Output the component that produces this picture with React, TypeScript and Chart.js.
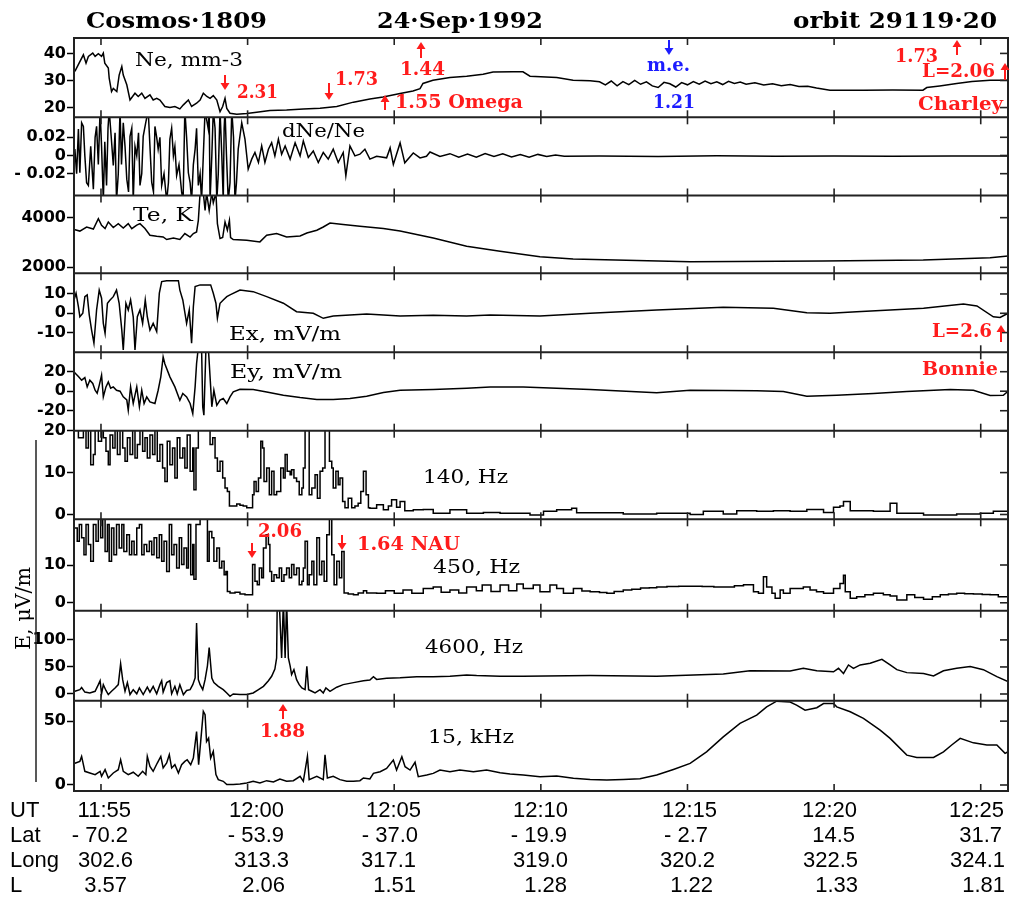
import React, { useEffect, useRef } from "react";
import { Chart, registerables } from "chart.js";

Chart.register(...registerables);

type Pt = [number, number];

// ---------- time axis: minutes after 11:55 UT ----------
const timeMin = -0.92;
const timeMax = 30.93;
const timeTicks = [0, 5, 10, 15, 20, 25, 30];

// ---------- orbit table ----------
const rowNames = ["UT", "Lat", "Long", "L"];
const utLabels = ["11:55", "12:00", "12:05", "12:10", "12:15", "12:20", "12:25"];
const latLabels = ["- 70.2", "- 53.9", "- 37.0", "- 19.9", "- 2.7", "14.5", "31.7"];
const longLabels = ["302.6", "313.3", "317.1", "319.0", "320.2", "322.5", "324.1"];
const lLabels = ["3.57", "2.06", "1.51", "1.28", "1.22", "1.33", "1.81"];

// ---------- series [minute, value] ----------
const neData: Pt[] = [
  [-0.89, 33.4], [-0.72, 37], [-0.6, 39.5], [-0.51, 36.4], [-0.43, 38.9], [-0.28, 40.1], [-0.2, 38.9], [-0.09, 39.9],
  [0.02, 38.9], [0.08, 40.1], [0.13, 36.4], [0.25, 34.6], [0.28, 30.9], [0.36, 25.9], [0.42, 27.1], [0.54, 25.9],
  [0.62, 32], [0.71, 35.2], [0.76, 32], [0.88, 28.4], [0.99, 22.8], [1.16, 25.3], [1.27, 24.1], [1.39, 25.3],
  [1.5, 23.4], [1.67, 24.7], [1.78, 22.8], [1.9, 23.4], [2.01, 22.8], [2.18, 20.4], [2.35, 20], [2.52, 20.4],
  [2.69, 19.5], [2.81, 21], [2.98, 22.8], [3.09, 20.4], [3.26, 21.6], [3.38, 22.8], [3.49, 25.3], [3.61, 24.1],
  [3.72, 23.4], [3.83, 24.4], [3.95, 22.8], [4.06, 18.5], [4.15, 20.4], [4.23, 23.4], [4.29, 19.7], [4.4, 17.9],
  [4.63, 17.5], [4.97, 17.8], [5.31, 18.3], [5.76, 18.9], [6.33, 19.1], [6.9, 19.5], [7.47, 19.7], [8.04, 20.4],
  [8.61, 22], [9.17, 23.2], [9.62, 23.9], [10.2, 25.2], [10.64, 26.1], [10.88, 27], [10.98, 28.9], [11.32, 30.1],
  [11.9, 31.1], [12.47, 31.6], [13.03, 32.3], [13.37, 33.1], [14.05, 33.2], [14.39, 33.2], [14.63, 31.6],
  [15.54, 31.1], [16.1, 30.1], [16.68, 29.9], [17.0, 29.5], [17.2, 28.4], [17.4, 29.8], [17.6, 28], [17.8, 29.6],
  [18.0, 28.5], [18.2, 30], [18.4, 28.6], [18.6, 29.5], [18.8, 28], [19.0, 27.4], [19.2, 29.3], [19.4, 28.8],
  [19.6, 27.6], [19.8, 29.2], [20.0, 28.4], [20.2, 29.6], [20.4, 28.6], [20.6, 29.8], [20.8, 28.8], [21.0, 29.5],
  [21.2, 28.5], [21.4, 29.7], [21.6, 28.9], [21.8, 29.4], [22.0, 28.6], [22.3, 29.2], [22.6, 28.3], [22.9, 28.8],
  [23.2, 28.1], [23.5, 28.5], [23.8, 27.8], [24.1, 27.9], [24.4, 27.2], [24.86, 26.4], [26, 26.4], [27, 26.5],
  [28.03, 26.4], [28.16, 27.4], [28.6, 28], [29.18, 28.9], [29.7, 29.6], [30.32, 30.1], [30.93, 30.1],
];

const dneData: Pt[] = [
  [-0.89, 0.007], [-0.83, -0.02], [-0.77, 0.029], [-0.72, -0.019], [-0.66, 0.036], [-0.6, 0.032], [-0.55, -0.0004],
  [-0.49, -0.03], [-0.43, -0.033], [-0.35, 0.01], [-0.26, -0.037], [-0.2, 0.02], [-0.15, 0.032], [-0.09, -0.01],
  [-0.03, 0.05], [0.02, 0.01], [0.08, -0.05], [0.13, 0.015], [0.19, -0.033], [0.24, 0.03], [0.28, 0.05],
  [0.35, 0.02], [0.42, -0.011], [0.48, 0.025], [0.53, -0.05], [0.59, -0.02], [0.65, 0.05], [0.7, -0.01],
  [0.76, 0.036], [0.82, 0.01], [0.88, -0.026], [0.94, -0.04], [0.99, 0.021], [1.05, 0.03], [1.1, -0.05],
  [1.16, 0.01], [1.22, -0.0004], [1.28, 0.025], [1.33, -0.033], [1.39, -0.02], [1.44, 0.021], [1.52, 0.035],
  [1.61, 0.05], [1.67, 0.01], [1.73, -0.0295], [1.79, -0.04], [1.84, 0.032], [1.9, 0.02], [1.95, 0.007],
  [2.01, 0.02], [2.07, -0.033], [2.15, -0.02], [2.24, -0.05], [2.3, -0.03], [2.35, 0.018], [2.41, 0.03],
  [2.47, -0.0004], [2.52, 0.01], [2.58, -0.022], [2.66, -0.01], [2.75, -0.04], [2.8, -0.05], [2.86, 0.05],
  [2.92, 0.02], [2.98, -0.019], [3.04, -0.03], [3.09, -0.05], [3.15, -0.01], [3.21, 0.007], [3.26, 0.03],
  [3.32, -0.033], [3.38, -0.02], [3.43, -0.05], [3.49, 0.0], [3.55, 0.05], [3.6, 0.04], [3.66, 0.029],
  [3.69, 0.05], [3.72, -0.05], [3.78, 0.0], [3.83, 0.05], [3.89, 0.03], [3.95, -0.05], [4.0, -0.02], [4.06, 0.05],
  [4.12, 0.0], [4.17, -0.05], [4.2, 0.03], [4.23, 0.05], [4.28, 0.0], [4.34, -0.05], [4.4, -0.03], [4.46, 0.05],
  [4.52, 0.02], [4.57, -0.05], [4.62, -0.03], [4.68, 0.007], [4.8, 0.036], [4.91, 0.018], [5.02, -0.015],
  [5.14, -0.004], [5.25, 0.0033], [5.37, -0.0077], [5.48, 0.0105], [5.59, -0.0077], [5.71, 0.0069], [5.82, 0.014],
  [5.93, -0.0004], [6.05, 0.018], [6.16, 0.0014], [6.28, 0.0105], [6.45, -0.004], [6.62, 0.014], [6.79, -0.0004],
  [6.9, 0.016], [7.07, -0.0022], [7.24, 0.005], [7.41, -0.0077], [7.58, 0.0033], [7.75, -0.004], [7.92, 0.0069],
  [8.09, -0.0077], [8.26, 0.0033], [8.35, -0.0223], [8.49, 0.0105], [8.66, -0.0004], [8.83, 0.0014], [9.0, 0.0069],
  [9.17, -0.004], [9.4, -0.0008], [9.74, -0.0026], [9.86, 0.0083], [9.97, -0.0098], [10.2, 0.0138],
  [10.36, -0.0081], [10.65, 0.0028], [10.88, -0.0026], [11.1, -0.0008], [11.22, 0.0039], [11.56, -0.001],
  [11.9, 0.002], [12.2, -0.002], [12.5, 0.0015], [12.8, -0.0018], [13.1, 0.0022], [13.4, -0.001], [13.7, 0.0018],
  [14.0, -0.0015], [14.3, 0.001], [14.6, -0.002], [14.9, 0.0012], [15.2, -0.001], [15.5, 0.0006], [15.8, -0.0008],
  [17, -0.0006], [19, -0.001], [21, -0.0004], [23, -0.0008], [25, -0.0006], [27, -0.0008], [29, -0.0005],
  [30.93, -0.0006],
];

const teData: Pt[] = [
  [-0.92, 3520], [-0.72, 3460], [-0.49, 3624], [-0.26, 3540], [-0.09, 3960], [0.02, 3692], [0.14, 3560],
  [0.25, 3824], [0.42, 3600], [0.59, 3760], [0.76, 3580], [0.93, 3760], [1.05, 3560], [1.22, 3700], [1.33, 3760],
  [1.5, 3560], [1.67, 3292], [1.9, 3250], [2.12, 3224], [2.24, 3120], [2.47, 3180], [2.69, 3120], [2.86, 3360],
  [3.04, 3220], [3.15, 3360], [3.26, 3424], [3.32, 3892], [3.38, 5000], [3.49, 5000], [3.55, 4292], [3.6, 5000],
  [3.69, 4292], [3.78, 5000], [3.83, 4600], [3.92, 5000], [3.97, 3760], [4.06, 3160], [4.15, 3200], [4.23, 3824],
  [4.31, 3500], [4.38, 3892], [4.42, 3200], [4.51, 3120], [4.97, 3092], [5.42, 3024], [5.65, 3292], [5.99, 3360],
  [6.33, 3224], [6.79, 3260], [7.02, 3384], [7.36, 3492], [7.58, 3624], [7.81, 3784], [8.26, 3720], [8.83, 3652],
  [9.63, 3560], [10.2, 3464], [11.33, 3184], [12.47, 2852], [13.61, 2652], [14.97, 2424], [16.1, 2332],
  [20.09, 2224], [24.62, 2252], [28.04, 2292], [30.32, 2384], [30.93, 2452],
];

const exData: Pt[] = [
  [-0.92, 6.9], [-0.85, 10.4], [-0.77, 3.4], [-0.72, -1.8], [-0.62, 0], [-0.55, 8.6], [-0.47, 9.5], [-0.4, -0.8],
  [-0.32, -8.7], [-0.24, -15.5], [-0.15, 1.7], [-0.06, 12], [0.02, 7.8], [0.08, -5.2], [0.14, -10.4], [0.22, 5.2],
  [0.31, 6.9], [0.42, 8.6], [0.53, 12], [0.62, 5.2], [0.71, -8.7], [0.76, -19], [0.85, 5.2], [0.93, 1.7],
  [1.01, 6.9], [1.1, -1.8], [1.16, -19], [1.24, -1.8], [1.33, 1.7], [1.42, -5.2], [1.51, 6.9], [1.58, -1.8],
  [1.67, -8.7], [1.78, -5.2], [1.9, -9.5], [1.99, 10.4], [2.07, 16.4], [2.24, 16.9], [2.64, 16.9], [2.69, 12],
  [2.79, 6.9], [2.92, -5.2], [3.01, 1.7], [3.09, -15.5], [3.15, 3.4], [3.21, 13.8], [3.38, 14.7], [3.74, 14.7],
  [3.83, 10.4], [3.92, 5.2], [3.97, -2.6], [4.06, 5.2], [4.17, 6.9], [4.29, 8.6], [4.4, 9.5], [4.74, 12],
  [5.19, 11.2], [5.65, 8.6], [6.22, 5.2], [6.67, 0.8], [7.24, 0], [7.58, -2.6], [7.92, -1.4], [9.06, -0.4],
  [10.2, -1.4], [11.33, -1], [12.47, -1.4], [13.27, -0.9], [14.97, -1.4], [16.68, 0], [18.95, 1.7], [21.22, 3.1],
  [22.93, 2.6], [24.07, 0.3], [24.86, 0], [25.77, 0.8], [28.05, 2.6], [29.41, 4.8], [29.87, 3.8], [30.43, -1.8],
  [30.66, -2.2], [30.93, 0],
];

const eyData: Pt[] = [
  [-0.92, 19.8], [-0.77, 15], [-0.66, 11.3], [-0.55, 14], [-0.47, 4.4], [-0.38, 11.3], [-0.28, 8], [-0.2, 1],
  [-0.13, -2], [-0.06, 6], [0.02, 16.4], [0.08, -5.8], [0.17, 4.4], [0.25, 9.5], [0.33, 3], [0.42, 4.4], [0.53, 1],
  [0.65, 0], [0.76, -5.8], [0.88, -9], [0.93, -19.5], [1.01, 4.4], [1.1, -12.6], [1.22, 4.4], [1.31, -16],
  [1.39, 1], [1.47, -12.6], [1.56, -5.8], [1.67, -11], [1.84, -12.6], [1.95, 1], [2.04, 14.7], [2.12, 35.2],
  [2.18, 28], [2.35, 14.7], [2.52, 4.4], [2.69, -9.2], [2.79, -2.4], [2.92, -5.8], [3.04, -12.6], [3.13, -22.9],
  [3.21, 4.4], [3.26, 28.4], [3.32, 45], [3.43, 45], [3.47, -16.1], [3.51, -24.6], [3.58, 45], [3.66, 45],
  [3.72, 14.7], [3.78, -16], [3.85, 1], [3.95, -14.5], [4.06, -9.2], [4.17, -7.5], [4.29, -12.6], [4.4, -5.8],
  [4.51, -0.7], [4.74, 2], [5.19, 1.7], [5.65, -0.7], [6.22, -4.1], [6.79, -6.5], [7.36, -8.5], [7.92, -8.5],
  [8.49, -7.5], [9.06, -5.1], [9.63, -1.4], [10.2, 1], [11.33, 1.7], [12.47, 3.1], [13.27, 4.4], [14.4, 4.4],
  [16.68, 1.7], [18.95, -1.7], [20.09, 1], [22.36, 0.5], [23.27, -0.3], [24.07, -5.1], [25.09, -4.1],
  [26.34, -2.4], [27.48, -0.3], [28.96, 1.7], [29.75, 1], [30.32, -4.4], [30.77, -4.1], [30.93, 0],
];

const e140Data: Pt[] = [
  [-0.89, 22], [-0.77, 18.3], [-0.6, 22], [-0.51, 15.9], [-0.43, 22], [-0.35, 11.9], [-0.26, 14.3], [-0.2, 22],
  [-0.09, 17.5], [0.02, 22], [0.08, 18.3], [0.17, 15.1], [0.25, 11.9], [0.31, 19], [0.4, 15.9], [0.48, 22],
  [0.56, 14.3], [0.65, 22], [0.74, 15.9], [0.82, 12.7], [0.9, 18.3], [0.99, 14.3], [1.08, 22], [1.16, 13.5],
  [1.24, 16.7], [1.33, 22], [1.42, 15.1], [1.5, 18.3], [1.58, 13.5], [1.67, 19], [1.76, 14.3], [1.84, 22],
  [1.92, 12.7], [2.01, 16.7], [2.1, 11.1], [2.18, 7.9], [2.26, 17.5], [2.35, 11.9], [2.44, 15.9], [2.52, 8.7],
  [2.6, 18.3], [2.69, 13.5], [2.79, 15.9], [2.86, 11.1], [2.94, 19], [3.04, 10.3], [3.13, 15.9], [3.17, 5.9],
  [3.24, 15.9], [3.32, 24], [3.49, 24], [3.66, 22], [3.72, 16.7], [3.81, 18.3], [3.89, 13.5], [3.97, 10.3],
  [4.06, 12.7], [4.15, 8.7], [4.23, 6.3], [4.31, 5.5], [4.38, 2], [4.51, 2], [4.63, 2.5], [4.74, 2.2], [4.85, 2],
  [4.97, 1.6], [5.08, 1.6], [5.17, 4.7], [5.22, 7.9], [5.29, 5.5], [5.37, 8.7], [5.45, 17.5], [5.51, 15.9],
  [5.56, 7.9], [5.65, 11.1], [5.74, 4.7], [5.82, 10.3], [5.9, 4.7], [5.99, 5.5], [6.13, 11.1], [6.22, 8.7],
  [6.28, 14.3], [6.35, 10.3], [6.45, 9.5], [6.5, 10.7], [6.58, 8.7], [6.67, 7.9], [6.76, 4.7], [6.85, 6.3],
  [6.9, 11.1], [6.96, 22], [7.04, 22], [7.1, 4.7], [7.19, 6.3], [7.3, 9.5], [7.38, 3.9], [7.47, 10.3],
  [7.56, 11.1], [7.64, 22], [7.72, 22], [7.79, 12.7], [7.87, 11.1], [7.92, 6.3], [8.01, 10.3], [8.09, 7.1],
  [8.15, 8.7], [8.24, 3.1], [8.32, 1.6], [8.43, 3.9], [8.55, 1.6], [8.66, 2], [8.77, 2.7], [8.86, 5.5],
  [8.95, 10.3], [9.04, 4.7], [9.12, 1.6], [9.17, 1.5], [9.4, 2.3], [9.63, 1.1], [9.8, 2], [9.91, 3.5],
  [10.08, 1.7], [10.2, 3.1], [10.36, 0.9], [10.65, 1.1], [10.99, 1.2], [11.33, 0.3], [11.9, 1.1], [12.47, 0.3],
  [13.04, 0.5], [13.61, 0.3], [14.63, -0.1], [15.09, 0.8], [15.54, 1.1], [16.05, 1.5], [16.22, 0.4], [16.68, 0.4],
  [17.81, 0.1], [18.95, 0.3], [20.09, 0], [20.54, 0.8], [21.22, 0.1], [21.68, 0.9], [22.36, 0.8], [22.93, 0.9],
  [23.5, 0.8], [24.07, 1.2], [24.64, 0.5], [24.98, 1.7], [25.2, 2], [25.32, 3.1], [25.55, 0.9], [26.34, 0.8],
  [26.91, 2.7], [27.14, 0.3], [28.05, -0.1], [29.18, 0.1], [29.98, 0.3], [30.43, 0.8], [30.93, -0.4],
];

const e450Data: Pt[] = [
  [-0.89, 19.8], [-0.81, 16.3], [-0.74, 20.7], [-0.66, 17.2], [-0.58, 12.7], [-0.51, 20.7], [-0.43, 15.4],
  [-0.35, 11], [-0.26, 20.7], [-0.17, 16.3], [-0.09, 23], [-0.01, 17.2], [0.06, 23], [0.14, 13.6], [0.22, 20.7],
  [0.28, 11], [0.36, 19.8], [0.44, 12.7], [0.53, 20.7], [0.62, 14.5], [0.71, 20.7], [0.78, 13.6], [0.88, 18],
  [0.97, 12.7], [1.05, 16.3], [1.13, 12.7], [1.22, 19.8], [1.31, 20.7], [1.39, 12.7], [1.47, 15.4], [1.56, 13.6],
  [1.65, 16.3], [1.73, 12.7], [1.81, 17.2], [1.9, 11.9], [1.99, 18], [2.07, 11], [2.15, 16.3], [2.24, 8.3],
  [2.33, 20.7], [2.41, 12.7], [2.49, 15.4], [2.58, 9.2], [2.67, 17.2], [2.75, 10.1], [2.83, 14.5], [2.92, 9.2],
  [2.98, 20.7], [3.06, 7.4], [3.13, 15.4], [3.17, 6.2], [3.24, 20.7], [3.38, 23], [3.55, 23], [3.63, 11],
  [3.69, 18.9], [3.78, 17.2], [3.85, 11], [3.95, 14.5], [4.04, 9.2], [4.12, 11], [4.2, 7.4], [4.26, 8.3],
  [4.31, 3], [4.4, 2.6], [4.57, 2.8], [4.74, 2.3], [4.91, 2.1], [5.14, 2.1], [5.17, 10.1], [5.25, 5.7],
  [5.33, 4.8], [5.4, 9.2], [5.48, 6.6], [5.54, 14.5], [5.63, 18], [5.71, 15.4], [5.76, 8.3], [5.82, 5.7],
  [5.9, 7.4], [5.99, 6.6], [6.08, 9.2], [6.16, 5.7], [6.24, 7.4], [6.33, 9.2], [6.42, 6.6], [6.5, 10.1],
  [6.58, 7.4], [6.67, 9.2], [6.76, 4.8], [6.85, 5.7], [6.9, 9.2], [6.96, 16.3], [7.04, 4.8], [7.1, 7.4],
  [7.19, 11], [7.26, 4.8], [7.36, 17.2], [7.45, 7.4], [7.53, 11], [7.61, 5.7], [7.7, 18], [7.79, 23],
  [7.87, 12.7], [7.95, 4.8], [8.04, 11], [8.13, 6.6], [8.21, 13.6], [8.29, 2.6], [8.43, 2.3], [8.61, 2.1],
  [8.77, 2.6], [8.95, 3.2], [9.06, 2.6], [9.4, 2.5], [9.7, 3.2], [10.0, 2.5], [10.3, 3.4], [10.6, 2.5],
  [10.99, 3.8], [11.33, 4.2], [11.6, 2.8], [11.9, 3.4], [12.2, 2.6], [12.47, 4.2], [12.8, 3.2], [13.0, 4.7],
  [13.3, 3.0], [13.61, 4.7], [13.9, 3.2], [14.18, 5], [14.4, 3.8], [14.74, 4.7], [14.97, 2.9], [15.31, 4.7],
  [15.54, 3.8], [15.77, 2.5], [16.11, 3.8], [16.4, 3.1], [16.68, 2.9], [17.0, 2.7], [17.25, 2.5], [17.5, 3.0],
  [17.81, 3.4], [18.1, 3.6], [18.4, 3.9], [18.7, 4.0], [18.95, 4.2], [19.3, 4.3], [19.7, 4.4], [20.09, 4.4],
  [20.5, 4.3], [20.9, 4.2], [21.22, 4.2], [21.6, 4.5], [21.91, 4.8], [22.25, 2.9], [22.42, 2.5], [22.59, 6.9],
  [22.7, 4.2], [22.88, 2.5], [22.99, 1.2], [23.16, 3.4], [23.27, 2.5], [23.5, 3.8], [23.95, 4.2], [24.18, 3.4],
  [24.4, 2.9], [24.64, 2.5], [24.98, 3.8], [25.2, 5.1], [25.32, 7.3], [25.38, 2.9], [25.55, 1.2], [25.77, 1.6],
  [26.05, 2.1], [26.34, 2.5], [26.68, 2.1], [26.91, 1.8], [27.14, 0.7], [27.48, 2.1], [27.75, 1.4], [28.05, 0.9],
  [28.35, 1.6], [28.62, 2.1], [28.9, 2.3], [29.18, 2.5], [29.45, 2.4], [29.75, 2.3], [30.05, 2.2], [30.32, 2.1],
  [30.6, 1.6], [30.93, 0.7],
];

const e4600Data: Pt[] = [
  [-0.89, 5], [-0.72, 8], [-0.66, 12], [-0.55, 3.5], [-0.38, 1.9], [-0.2, 5], [-0.09, 17.3], [-0.03, 24.5],
  [0.02, 0.3], [0.08, 17.3], [0.17, 6.5], [0.25, -1], [0.36, 5], [0.48, 11.1], [0.59, 17.3], [0.67, 56],
  [0.74, 26.5], [0.82, 5], [0.9, 21], [0.99, -1], [1.1, 8], [1.22, 0.3], [1.31, 11.1], [1.44, -1], [1.58, 12.6],
  [1.67, 3.5], [1.78, 14.2], [1.9, 0.3], [2.01, 17.3], [2.07, 24.5], [2.12, 3.5], [2.24, 21], [2.35, 24.5],
  [2.41, 0.3], [2.52, 14.2], [2.6, 0.3], [2.69, 17.3], [2.81, -1.3], [2.92, 6.5], [3.04, 8], [3.13, 17.3],
  [3.21, 29.6], [3.26, 131], [3.32, 26.5], [3.38, 17.3], [3.47, 8], [3.55, 26.5], [3.63, 52], [3.69, 86],
  [3.78, 29.6], [3.85, 21], [4.0, 14.2], [4.17, 8], [4.29, 1.9], [4.4, -4.3], [4.51, 0], [4.74, -1], [4.97, -1],
  [5.19, 1.9], [5.37, 8], [5.54, 14.2], [5.71, 24.5], [5.82, 32.7], [5.93, 46], [5.99, 66.7], [6.01, 170],
  [6.08, 170], [6.16, 66.7], [6.22, 170], [6.28, 66.7], [6.33, 170], [6.39, 66.7], [6.45, 52], [6.5, 35.8],
  [6.58, 45], [6.67, 26.5], [6.76, 17.3], [6.85, 11.1], [6.96, 8], [7.02, 51], [7.08, 8], [7.19, 5], [7.3, 1.9],
  [7.47, 8], [7.58, 1.9], [7.67, 11.1], [7.81, 5], [8.04, 12.6], [8.26, 17.3], [8.61, 21], [8.95, 24.5],
  [9.17, 26], [9.29, 32], [9.4, 27], [9.74, 29], [10.2, 30], [10.77, 32], [11.33, 32], [11.9, 33], [12.47, 35.2],
  [12.81, 34], [13.61, 33], [14.4, 33], [16.68, 34], [18.95, 33], [21.22, 37], [22.13, 43], [23.5, 42.5],
  [23.95, 47.5], [24.41, 43], [24.98, 41], [25.15, 47.5], [25.32, 38], [25.49, 53.7], [25.66, 47.5],
  [25.89, 53.7], [26.23, 56.8], [26.63, 64], [26.91, 53.7], [27.14, 45], [27.48, 39.5], [28.05, 38],
  [28.39, 33.3], [28.73, 43], [29.18, 47.5], [29.64, 50.6], [30.09, 45], [30.55, 32], [30.93, 22.8],
];

const e15kData: Pt[] = [
  [-0.89, 17], [-0.72, 18.5], [-0.66, 22.4], [-0.55, 10.7], [-0.38, 9.4], [-0.2, 8.1], [-0.03, 10.7], [0.02, 6.8],
  [0.14, 12], [0.25, 5.5], [0.42, 9.4], [0.59, 12], [0.67, 19.8], [0.76, 10.7], [0.93, 8.1], [1.1, 10],
  [1.27, 6.8], [1.42, 10.7], [1.53, 8.1], [1.58, 22.4], [1.67, 14.6], [1.78, 10.7], [1.92, 17.2], [2.04, 22.4],
  [2.12, 13.3], [2.24, 17.2], [2.33, 23.7], [2.41, 13.3], [2.52, 15.9], [2.64, 9.4], [2.75, 15.9], [2.86, 18.5],
  [2.94, 19.8], [3.06, 15.9], [3.15, 21.1], [3.26, 41.8], [3.33, 15.9], [3.4, 34], [3.49, 57.6], [3.55, 55],
  [3.6, 34], [3.67, 36.7], [3.74, 21.1], [3.83, 26.3], [3.92, 8.1], [4.0, 4.2], [4.17, 2.9], [4.29, 0.3],
  [4.51, 0.3], [4.74, 0.8], [4.97, 1.6], [5.19, 2.9], [5.42, 1.6], [5.65, 3.4], [5.88, 2.4], [6.1, 4.7],
  [6.33, 2.9], [6.56, 3.4], [6.79, 6.8], [6.9, 2.9], [7.04, 22.4], [7.1, 4.2], [7.36, 6.8], [7.58, 4.2],
  [7.64, 23.7], [7.72, 5.5], [7.92, 6.8], [8.15, 4.2], [8.38, 2.9], [8.61, 2.9], [8.83, 3.4], [8.95, 5.5],
  [9.17, 4.7], [9.29, 9.1], [9.52, 10.4], [9.74, 13], [9.97, 19.5], [10.08, 11.7], [10.26, 22.1], [10.37, 14.3],
  [10.54, 11.7], [10.71, 17.8], [10.82, 6.5], [11.11, 7.8], [11.33, 9.1], [11.56, 11.7], [11.9, 10.4],
  [12.24, 11.7], [12.7, 10.4], [13.15, 11.7], [13.61, 9.6], [13.95, 8.6], [14.4, 7.8], [14.97, 6.5], [15.54, 7],
  [16.11, 5.2], [16.68, 4.4], [17.25, 3.9], [17.81, 4.4], [18.38, 4.9], [18.95, 7.8], [19.52, 12.2], [20.09, 16.9],
  [20.65, 26], [21.22, 37.7], [21.79, 48.2], [22.36, 54.7], [22.7, 61.2], [23.04, 65.6], [23.5, 65], [23.72, 62.5],
  [24.01, 58.6], [24.41, 60.5], [24.64, 63.8], [24.98, 63.8], [25.09, 61.2], [25.55, 57.3], [26.0, 52.1],
  [26.57, 43], [26.91, 36.5], [27.48, 23.4], [27.82, 21.6], [28.39, 21.6], [28.73, 26], [29.01, 31.3],
  [29.3, 36.5], [29.75, 33], [30.21, 31.3], [30.55, 31.3], [30.83, 24.8], [30.93, 26],
];

// ---------- y ticks per panel ----------
const neTicks = [40, 30, 20];
const neTickLabels = ["40", "30", "20"];
const dneTicks = [0.02, 0, -0.02];
const dneTickLabels = ["0.02", "0", "- 0.02"];
const teTicks = [4000, 2000];
const teTickLabels = ["4000", "2000"];
const exTicks = [10, 0, -10];
const exTickLabels = ["10", "0", "-10"];
const eyTicks = [20, 0, -20];
const eyTickLabels = ["20", "0", "-20"];
const e140Ticks = [20, 10, 0];
const e140TickLabels = ["20", "10", "0"];
const e450Ticks = [10, 0];
const e450TickLabels = ["10", "0"];
const e4600Ticks = [100, 50, 0];
const e4600TickLabels = ["100", "50", "0"];
const e15kTicks = [50, 0];
const e15kTickLabels = ["50", "0"];

const panels = [
  { data: neData, min: 16.4, max: 45.7, ticks: neTicks, labels: neTickLabels, stepped: false },
  { data: dneData, min: -0.044, max: 0.042, ticks: dneTicks, labels: dneTickLabels, stepped: false },
  { data: teData, min: 1760, max: 4892, ticks: teTicks, labels: teTickLabels, stepped: false },
  { data: exData, min: -20.2, max: 20.7, ticks: exTicks, labels: exTickLabels, stepped: false },
  { data: eyData, min: -40.5, max: 39.9, ticks: eyTicks, labels: eyTickLabels, stepped: false },
  { data: e140Data, min: -1.15, max: 20, ticks: e140Ticks, labels: e140TickLabels, stepped: true },
  { data: e450Data, min: -2.1, max: 22.1, ticks: e450Ticks, labels: e450TickLabels, stepped: true },
  { data: e4600Data, min: -12.4, max: 154, ticks: e4600Ticks, labels: e4600TickLabels, stepped: false },
  { data: e15kData, min: -4.7, max: 66, ticks: e15kTicks, labels: e15kTickLabels, stepped: false },
];

// ---------- layout (pixels) ----------
const panelHeights = [79.3, 78.2, 77.8, 79, 78.4, 88.6, 91.4, 90, 90.3];
const yIds = panels.map((_, i) => "y" + (i + 1));

const SERIF = '"DejaVu Serif"';
const RED = "rgb(255,28,28)";
const BLUE = "rgb(28,28,255)";

type Txt = { t: string; x: number; y: number; w: number; font: string; c: string };
const texts: Txt[] = [
  { t: "Cosmos·1809", x: 86, y: 28.3, w: 181, font: `bold 22px ${SERIF}`, c: "#000" },
  { t: "24·Sep·1992", x: 377, y: 28.3, w: 166, font: `bold 22px ${SERIF}`, c: "#000" },
  { t: "orbit 29119·20", x: 793, y: 28.3, w: 204, font: `bold 22px ${SERIF}`, c: "#000" },
  { t: "Ne, mm-3", x: 135, y: 66.3, w: 108, font: `18px ${SERIF}`, c: "#000" },
  { t: "dNe/Ne", x: 282, y: 137.3, w: 83, font: `18px ${SERIF}`, c: "#000" },
  { t: "Te, K", x: 133, y: 220.7, w: 60, font: `18px ${SERIF}`, c: "#000" },
  { t: "Ex, mV/m", x: 229, y: 340, w: 112, font: `18px ${SERIF}`, c: "#000" },
  { t: "Ey, mV/m", x: 230, y: 378.3, w: 112, font: `18px ${SERIF}`, c: "#000" },
  { t: "140, Hz", x: 423, y: 482.7, w: 85, font: `18px ${SERIF}`, c: "#000" },
  { t: "450, Hz", x: 433, y: 573.3, w: 87, font: `18px ${SERIF}`, c: "#000" },
  { t: "4600, Hz", x: 425, y: 653.3, w: 98, font: `18px ${SERIF}`, c: "#000" },
  { t: "15, kHz", x: 428, y: 743.3, w: 86, font: `18px ${SERIF}`, c: "#000" },
  { t: "2.31", x: 237, y: 98, w: 41, font: `bold 18px ${SERIF}`, c: RED },
  { t: "1.73", x: 335, y: 85, w: 43, font: `bold 18px ${SERIF}`, c: RED },
  { t: "1.44", x: 400, y: 75, w: 45, font: `bold 18px ${SERIF}`, c: RED },
  { t: "1.55 Omega", x: 395, y: 108.3, w: 128, font: `bold 18px ${SERIF}`, c: RED },
  { t: "m.e.", x: 647, y: 70.7, w: 43, font: `bold 18px ${SERIF}`, c: BLUE },
  { t: "1.21", x: 653, y: 108.3, w: 42, font: `bold 18px ${SERIF}`, c: BLUE },
  { t: "1.73", x: 895, y: 61.7, w: 43, font: `bold 18px ${SERIF}`, c: RED },
  { t: "L=2.06", x: 922, y: 77.3, w: 73, font: `bold 18px ${SERIF}`, c: RED },
  { t: "Charley", x: 918, y: 110, w: 85, font: `bold 18px ${SERIF}`, c: RED },
  { t: "L=2.6", x: 932, y: 337.3, w: 60, font: `bold 18px ${SERIF}`, c: RED },
  { t: "Bonnie", x: 922, y: 375, w: 76, font: `bold 18px ${SERIF}`, c: RED },
  { t: "2.06", x: 258, y: 537.3, w: 44, font: `bold 18px ${SERIF}`, c: RED },
  { t: "1.64 NAU", x: 357, y: 550, w: 103, font: `bold 18px ${SERIF}`, c: RED },
  { t: "1.88", x: 260, y: 737.3, w: 45, font: `bold 18px ${SERIF}`, c: RED },
];

// arrows: x, tail y, head y
const arrows: { x: number; a: number; b: number; c: string }[] = [
  { x: 225, a: 75, b: 90, c: RED },
  { x: 329, a: 83, b: 100, c: RED },
  { x: 421, a: 58, b: 42, c: RED },
  { x: 385, a: 110, b: 95, c: RED },
  { x: 669, a: 40, b: 55, c: BLUE },
  { x: 957, a: 55, b: 40, c: RED },
  { x: 1005, a: 80, b: 63, c: RED },
  { x: 1001, a: 342, b: 325, c: RED },
  { x: 252, a: 543, b: 558, c: RED },
  { x: 342, a: 535, b: 550, c: RED },
  { x: 283, a: 719, b: 704, c: RED },
];

const tableRows = [utLabels, latLabels, longLabels, lLabels];
const tableBaselines = [816.7, 842, 867, 892];
const tableRight = [
  [131, 284, 421, 568, 717, 857, 1004],
  [128, 284, 418, 567, 708, 855, 1002],
  [133, 289, 416, 568, 715, 858, 1005],
  [127, 285, 416, 567, 713, 858, 1005],
];

function fitText(ctx: CanvasRenderingContext2D, t: string, x: number, y: number, w: number, font: string, c: string) {
  ctx.save();
  ctx.font = font;
  ctx.fillStyle = c;
  ctx.textAlign = "left";
  ctx.textBaseline = "alphabetic";
  const m = ctx.measureText(t).width;
  ctx.translate(x, y);
  ctx.scale(w / m, 1);
  ctx.fillText(t, 0, 0);
  ctx.restore();
}

function drawArrow(ctx: CanvasRenderingContext2D, x: number, a: number, b: number, c: string) {
  const dir = b > a ? 1 : -1;
  ctx.save();
  ctx.strokeStyle = c;
  ctx.fillStyle = c;
  ctx.lineWidth = 2;
  ctx.beginPath();
  ctx.moveTo(x, a);
  ctx.lineTo(x, b - dir * 5);
  ctx.stroke();
  ctx.beginPath();
  ctx.moveTo(x, b);
  ctx.lineTo(x - 4.5, b - dir * 7);
  ctx.lineTo(x + 4.5, b - dir * 7);
  ctx.closePath();
  ctx.fill();
  ctx.restore();
}

const framePlugin = {
  id: "frame",
  afterDraw(chart: any) {
    const ctx: CanvasRenderingContext2D = chart.ctx;
    const a = chart.chartArea;
    const xs = chart.scales.x;
    const ys = yIds.map((id) => chart.scales[id]);
    ctx.save();
    ctx.strokeStyle = "#222";
    ctx.lineWidth = 2;
    ys.forEach((s: any, i: number) => {
      if (i === 0) return;
      ctx.beginPath();
      ctx.moveTo(a.left, s.top);
      ctx.lineTo(a.right, s.top);
      ctx.stroke();
    });
    ctx.strokeRect(a.left, a.top, a.right - a.left, a.bottom - a.top);

    ctx.save();
    ctx.beginPath();
    ctx.rect(a.left, a.top, a.right - a.left, a.bottom - a.top);
    ctx.clip();
    ctx.lineWidth = 1.6;
    const bounds = ys.map((s: any) => s.top).concat([a.bottom]);
    timeTicks.forEach((t) => {
      const px = xs.getPixelForValue(t);
      bounds.forEach((b: number) => {
        ctx.beginPath();
        ctx.moveTo(px, b - 7);
        ctx.lineTo(px, b + 7);
        ctx.stroke();
      });
    });
    ys.forEach((s: any, i: number) => {
      panels[i].ticks.forEach((v) => {
        const py = s.getPixelForValue(v);
        ctx.beginPath();
        ctx.moveTo(a.right - 8, py);
        ctx.lineTo(a.right, py);
        ctx.stroke();
      });
    });
    ctx.restore();

    // E, uV/m side label
    ctx.strokeStyle = "#222";
    ctx.lineWidth = 1.5;
    ctx.beginPath();
    ctx.moveTo(36, 440);
    ctx.lineTo(36, 782);
    ctx.stroke();
    ctx.save();
    ctx.translate(30, 650);
    ctx.rotate(-Math.PI / 2);
    fitText(ctx, "E, μV/m", 0, 0, 83, `20px ${SERIF}`, "#000");
    ctx.restore();

    texts.forEach((t) => fitText(ctx, t.t, t.x, t.y, t.w, t.font, t.c));
    arrows.forEach((r) => drawArrow(ctx, r.x, r.a, r.b, r.c));

    // orbit table
    ctx.font = '22px "Liberation Sans"';
    ctx.fillStyle = "#000";
    ctx.textBaseline = "alphabetic";
    tableRows.forEach((row, r) => {
      ctx.textAlign = "left";
      ctx.fillText(rowNames[r], 10, tableBaselines[r]);
      ctx.textAlign = "right";
      row.forEach((v, c) => ctx.fillText(v, tableRight[r][c], tableBaselines[r]));
    });
    ctx.restore();
  },
};

export default function App() {
  const ref = useRef<HTMLCanvasElement>(null);
  useEffect(() => {
    const canvas = ref.current;
    if (!canvas) return;
    const scales: any = {
      x: { type: "linear", min: timeMin, max: timeMax, display: false },
    };
    panels.forEach((p, i) => {
      scales[yIds[i]] = {
        type: "linear",
        position: "left",
        stack: "panels",
        stackWeight: panelHeights[i],
        weight: 20 - i,
        min: p.min,
        max: p.max,
        afterFit: (s: any) => {
          s.width = 74;
        },
        afterBuildTicks: (s: any) => {
          s.ticks = p.ticks.map((v) => ({ value: v }));
        },
        ticks: {
          autoSkip: false,
          padding: 1,
          color: "#000",
          font: { family: "DejaVu Sans", weight: "bold", size: 16 },
          callback: (_v: any, idx: number) => p.labels[idx],
        },
        grid: {
          drawOnChartArea: false,
          drawTicks: true,
          tickLength: 7,
          tickColor: "#000",
          tickWidth: 1.5,
        },
        border: { display: true, color: "#222", width: 2 },
      };
    });
    const datasets = panels.map((p, i) => ({
      data: p.data.map(([x, y]) => ({ x, y })),
      xAxisID: "x",
      yAxisID: yIds[i],
      borderColor: "#000",
      borderWidth: 1.5,
      pointRadius: 0,
      tension: 0,
      stepped: p.stepped,
      fill: false,
    }));
    const chart = new Chart(canvas, {
      type: "line",
      data: { datasets } as any,
      options: {
        responsive: false,
        animation: false,
        devicePixelRatio: 1,
        events: [],
        layout: { padding: { left: 0, top: 38, right: 3, bottom: 108 } },
        plugins: { legend: { display: false }, tooltip: { enabled: false } },
        scales,
      } as any,
      plugins: [framePlugin],
    });
    return () => chart.destroy();
  }, []);
  return (
    <div style={{ position: "absolute", left: 0, top: 0, width: 1011, height: 899, background: "#fff" }}>
      <canvas ref={ref} width={1011} height={899} style={{ display: "block", width: 1011, height: 899 }} />
    </div>
  );
}
